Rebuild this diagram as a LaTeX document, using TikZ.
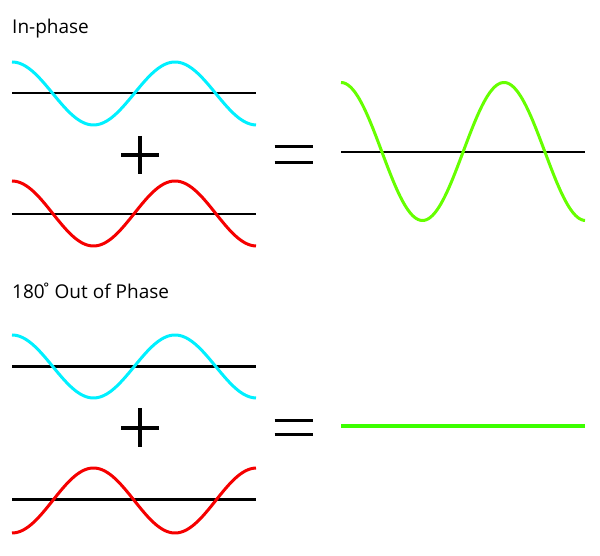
\documentclass[tikz,border=0pt]{standalone}
\usepackage{fontspec}
\setmainfont{Open Sans}
\begin{document}
\begin{tikzpicture}[x=1pt,y=1pt,
  wave/.style={line width=3pt},
  axisthin/.style={line width=2pt,black},
  axisthick/.style={line width=3pt,black},
  sign/.style={line width=4pt,black},
  lbl/.style={anchor=base west,inner sep=0pt,font=\fontsize{19}{22}\selectfont}]
\definecolor{wcyan}{HTML}{00F0FF}
\definecolor{wred}{HTML}{F50000}
\definecolor{wgreen}{HTML}{66FF00}
\definecolor{wflat}{HTML}{3CFF00}
\useasboundingbox (0,0) rectangle (600,556);
% titles
\node[lbl] (t1) at (12,556-33.3) {In-phase};
\node[lbl] (t2) at (12,556-298.5) {180\kern-4pt˚\kern-2pt{} Out of Phase};
% ---------- in-phase ----------
\draw[axisthin] (12,556-93) -- (256,556-93);
\draw[wave,wcyan] plot[domain=0:244,samples=120] ({12+\x},{556-93.5+31.5*cos(2.20859*\x)});
\draw[axisthin] (12,556-214) -- (256,556-214);
\draw[wave,wred] plot[domain=0:244,samples=120] ({12+\x},{556-213.5+32.5*cos(2.20859*\x)});
% plus
\draw[sign] (121,556-155) -- (158.5,556-155);
\draw[sign] (139.7,556-136) -- (139.7,556-174);
% equals
\draw[sign,line width=3.5pt] (274.5,556-146.7) -- (312.7,556-146.7);
\draw[sign,line width=3.5pt] (274.5,556-162.3) -- (312.7,556-162.3);
% result
\draw[axisthin] (341,556-152.5) -- (585,556-152.5);
\draw[wave,wgreen] plot[domain=0:244,samples=150] ({341+\x},{556-151.5+69*cos(2.20859*\x)});
% ---------- out of phase ----------
\draw[axisthick] (12,556-366.5) -- (256,556-366.5);
\draw[wave,wcyan] plot[domain=0:244,samples=120] ({12+\x},{556-366.5+31.5*cos(2.20859*\x)});
\draw[axisthick] (12,556-500) -- (256,556-500);
\draw[wave,wred] plot[domain=0:244,samples=120] ({12+\x},{556-500.5-32.5*cos(2.20859*\x)});
% plus
\draw[sign] (121,556-428) -- (158.5,556-428);
\draw[sign] (139.7,556-408.5) -- (139.7,556-447.3);
% equals
\draw[sign,line width=3.5pt] (274.5,556-420.7) -- (312.7,556-420.7);
\draw[sign,line width=3.5pt] (274.5,556-434.3) -- (312.7,556-434.3);
% flat result
\draw[line width=3.8pt,wflat] (341,556-425.7) -- (585,556-425.7);
\end{tikzpicture}
\end{document}
